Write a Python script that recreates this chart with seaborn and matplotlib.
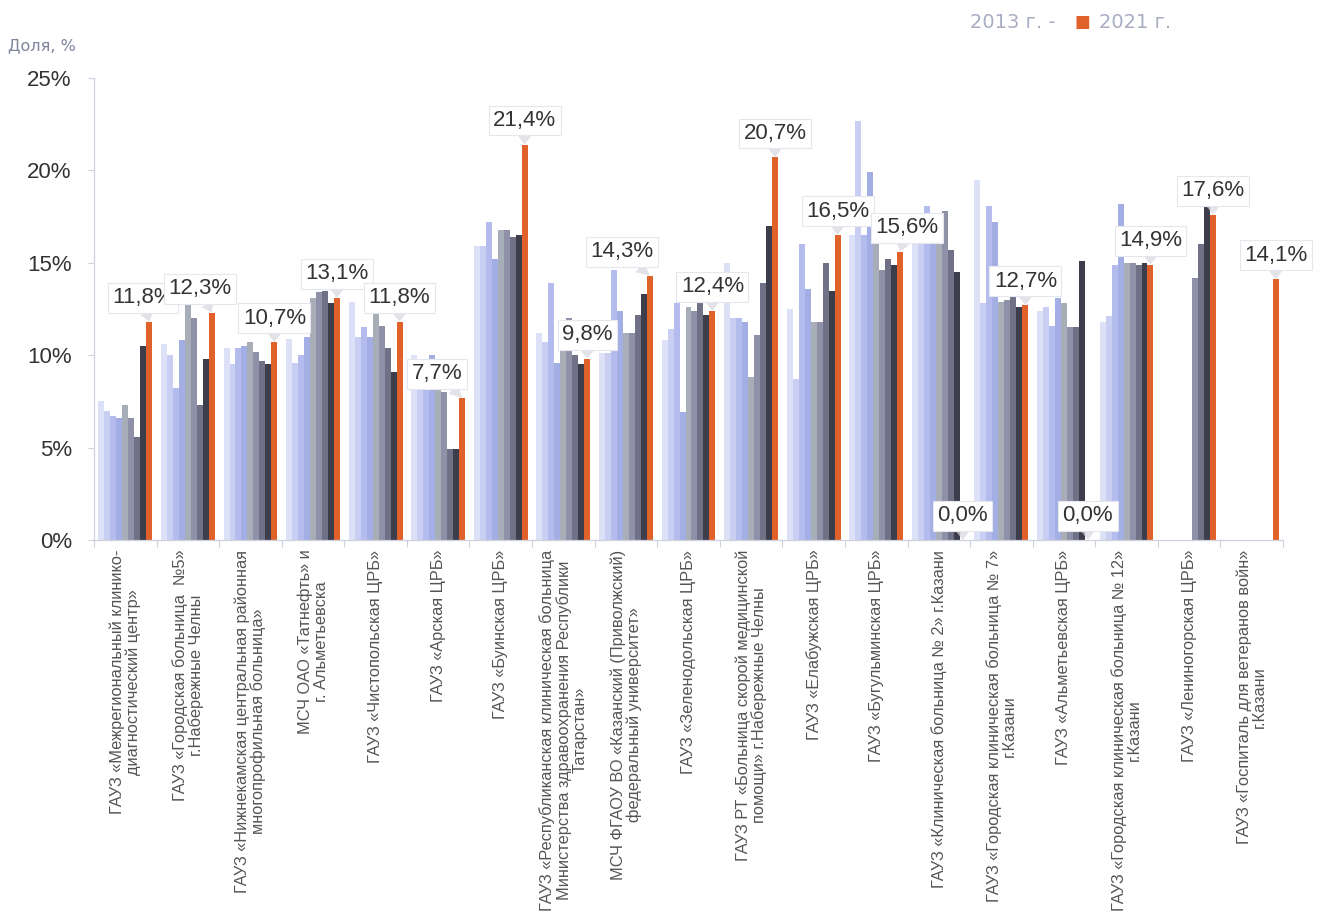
import numpy as np
import pandas as pd
import matplotlib
matplotlib.use("Agg")
import matplotlib.pyplot as plt
import seaborn as sns

# Hospitals (x-axis categories)
hospitals = [
    "ГАУЗ «Межрегиональный клинико-\nдиагностический центр»",
    "ГАУЗ «Городская больница  №5»\nг.Набережные Челны",
    "ГАУЗ «Нижнекамская центральная районная\nмногопрофильная больница»",
    "МСЧ ОАО «Татнефть» и\nг. Альметьевска",
    "ГАУЗ «Чистопольская ЦРБ»",
    "ГАУЗ «Арская ЦРБ»",
    "ГАУЗ «Буинская ЦРБ»",
    "ГАУЗ «Республиканская клиническая больница\nМинистерства здравоохранения Республики\nТатарстан»",
    "МСЧ ФГАОУ ВО «Казанский (Приволжский)\nфедеральный университет»",
    "ГАУЗ «Зеленодольская ЦРБ»",
    "ГАУЗ РТ «Больница скорой медицинской\nпомощи» г.Набережные Челны",
    "ГАУЗ «Елабужская ЦРБ»",
    "ГАУЗ «Бугульминская ЦРБ»",
    "ГАУЗ «Клиническая больница № 2» г.Казани",
    "ГАУЗ «Городская клиническая больница № 7»\nг.Казани",
    "ГАУЗ «Альметьевская ЦРБ»",
    "ГАУЗ «Городская клиническая больница № 12»\nг.Казани",
    "ГАУЗ «Лениногорская ЦРБ»",
    "ГАУЗ «Госпиталь для ветеранов войн»\nг.Казани",
]

years = ["2013", "2014", "2015", "2016", "2017", "2018", "2019", "2020", "2021"]

nan = np.nan
# Share, % by year (one value per hospital, same order as above)
share_2013 = [7.5, 10.6, 10.4, 10.9, 12.9, 10.0, 15.9, 11.2, 10.1, 10.8, 15.0, 12.5, 16.5, 16.3, 19.5, 12.4, 11.8, nan, nan]
share_2014 = [7.0, 10.0, 9.5, 9.6, 11.0, 8.5, 15.9, 10.7, 10.1, 11.4, 12.0, 8.7, 22.7, 16.3, 12.8, 12.6, 12.1, nan, nan]
share_2015 = [6.7, 8.2, 10.4, 10.0, 11.5, 8.3, 17.2, 13.9, 14.6, 12.8, 12.0, 16.0, 16.5, 18.1, 18.1, 11.6, 14.9, nan, nan]
share_2016 = [6.6, 10.8, 10.5, 11.0, 11.0, 10.0, 15.2, 9.6, 12.4, 6.9, 11.8, 13.6, 19.9, 16.3, 17.2, 13.1, 18.2, nan, nan]
share_2017 = [7.3, 12.8, 10.7, 13.1, 12.3, 8.1, 16.8, 10.4, 11.2, 12.6, 8.8, 11.8, 16.2, 16.3, 12.9, 12.8, 15.0, nan, nan]
share_2018 = [6.6, 12.0, 10.2, 13.4, 11.6, 8.0, 16.8, 12.0, 11.2, 12.4, 11.1, 11.8, 14.6, 17.8, 13.0, 11.5, 15.0, 14.2, nan]
share_2019 = [5.6, 7.3, 9.7, 13.5, 10.4, 4.9, 16.4, 10.0, 12.2, 12.8, 13.9, 15.0, 15.2, 15.7, 13.3, 11.5, 14.9, 16.0, nan]
share_2020 = [10.5, 9.8, 9.5, 12.8, 9.1, 4.9, 16.5, 9.5, 13.3, 12.2, 17.0, 13.5, 14.9, 14.5, 12.6, 15.1, 15.0, 18.0, nan]
share_2021 = [11.8, 12.3, 10.7, 13.1, 11.8, 7.7, 21.4, 9.8, 14.3, 12.4, 20.7, 16.5, 15.6, 0.0, 12.7, 0.0, 14.9, 17.6, 14.1]

series = [share_2013, share_2014, share_2015, share_2016, share_2017,
          share_2018, share_2019, share_2020, share_2021]

year_colors = ["#dde1f7", "#c8cff3", "#b3bcec", "#a3aee4", "#a8aeb8",
               "#8e91a8", "#707187", "#3e3d4b", "#e0622a"]

# Long-form table for seaborn
rows = []
for yr, vals in zip(years, series):
    for h, v in zip(hospitals, vals):
        if not np.isnan(v):
            rows.append({"hospital": h, "year": yr, "share": v})
df = pd.DataFrame(rows)

sns.set_style("white")
plt.rcParams["font.family"] = ["Liberation Sans", "DejaVu Sans"]

W, H = 1327, 914
fig = plt.figure(figsize=(W / 100, H / 100), dpi=100)
ax = fig.add_axes([94 / W, 1 - 540 / H, (1283 - 94) / W, (540 - 78) / H])

sns.barplot(data=df, x="hospital", y="share", hue="year",
            order=hospitals, hue_order=years,
            palette=dict(zip(years, year_colors)),
            width=0.86, errorbar=None, saturation=1, linewidth=0,
            legend=False, ax=ax)

ax.set_xlim(-0.5, len(hospitals) - 0.5)
ax.set_ylim(0, 25)
ax.set_xlabel("")
ax.set_ylabel("")

yt = [0, 5, 10, 15, 20, 25]
ax.set_yticks(yt)
ax.set_yticklabels([f"{t}%" for t in yt])
ax.tick_params(axis="y", labelsize=16, labelcolor="#333333", color="#cfd2de",
               length=4, width=0.8, pad=12, left=True)

ax.set_xticks(range(len(hospitals)))
ax.set_xticklabels(hospitals, rotation=90, fontsize=11.8, color="#555555",
                   linespacing=1.05)
ax.tick_params(axis="x", which="major", length=0, pad=7)
ax.set_xticks(np.arange(-0.5, len(hospitals), 1), minor=True)
ax.tick_params(axis="x", which="minor", length=5, color="#cfd2de", width=0.8,
               bottom=True)

for s in ("top", "right"):
    ax.spines[s].set_visible(False)
for s in ("left", "bottom"):
    ax.spines[s].set_color("#cfd2de")
    ax.spines[s].set_linewidth(0.9)

# Value labels on the 2021 bars
label_shift = {0: -6, 1: -12, 5: -25, 8: -28, 12: 7}
bars_2021 = ax.containers[-1]
for i, (p, v) in enumerate(zip(bars_2021.patches, share_2021)):
    x = p.get_x() + p.get_width() / 2
    txt = f"{v:.1f}".replace(".", ",") + "%"
    ax.annotate(txt, xy=(x, p.get_height()),
                xytext=(label_shift.get(i, 0), 24), textcoords="offset pixels",
                ha="center", va="center", fontsize=16, color="#333333",
                bbox=dict(boxstyle="square,pad=0.2", fc="white",
                          ec="#e6e7ee", lw=0.8),
                arrowprops=dict(arrowstyle="wedge,tail_width=0.6,shrink_factor=0.5",
                                fc="#d6d7e0", ec="none", alpha=0.7,
                                shrinkA=0, shrinkB=0),
                zorder=5)

# Axis caption and legend-like header
fig.text(8 / W, 1 - 46 / H, "Доля, %", fontsize=11.5, color="#7d849c",
         ha="left", va="center", family="DejaVu Sans")
fig.text(970 / W, 1 - 22 / H, "2013 г. -", fontsize=14, color="#a8adc2",
         ha="left", va="center", family="DejaVu Sans")
fig.text(1074 / W, 1 - 22 / H, "■", fontsize=12, color="#e0622a",
         ha="left", va="center", family="DejaVu Sans")
fig.text(1099 / W, 1 - 22 / H, "2021 г.", fontsize=14, color="#a8adc2",
         ha="left", va="center", family="DejaVu Sans")

fig.savefig("out.png", dpi=100, facecolor="white")
